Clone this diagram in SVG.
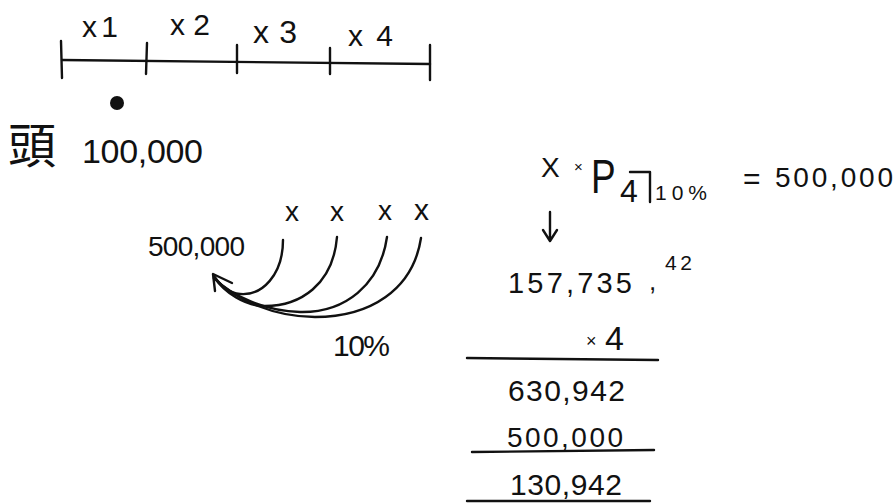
<svg xmlns="http://www.w3.org/2000/svg" width="896" height="504" viewBox="0 0 896 504">
<style>
.t{font-family:"Liberation Sans","DejaVu Sans",sans-serif;fill:#111;}
.cjk{font-family:"Noto Sans CJK JP","Noto Sans CJK SC",sans-serif;fill:#111;}
.s{fill:none;stroke:#111;stroke-width:2.4;stroke-linecap:round;stroke-linejoin:round;}
</style>
<rect width="896" height="504" fill="#ffffff"/>
<g id="timeline">
<path class="s" d="M62,60 L430,64"/>
<path class="s" d="M61,41 L62,78 M147,43 L146,74 M237,45 L237,73 M330,48 L330,74 M430,45 L430,80"/>
<text class="t" x="82" y="37" font-size="30" textLength="36">x1</text>
<text class="t" x="170" y="35" font-size="30" textLength="40">x2</text>
<text class="t" x="253" y="43" font-size="32" textLength="44">x3</text>
<text class="t" x="348" y="46" font-size="30" textLength="45">x4</text>
<circle cx="117" cy="103" r="7" fill="#111"/>
</g>
<g id="head">
<text class="cjk" x="8" y="163" font-size="48">頭</text>
<text class="t" x="82" y="163" font-size="34" textLength="121">100,000</text>
</g>
<g id="left-diagram">
<text class="t" x="285" y="221" font-size="28">x</text>
<text class="t" x="330" y="221" font-size="28">x</text>
<text class="t" x="378" y="220" font-size="28">x</text>
<text class="t" x="414" y="220" font-size="30">x</text>
<text class="t" x="148" y="256" font-size="28" textLength="97">500,000</text>
<path class="s" d="M283,240 C283,275 262,296 240,294 C228,293 220,285 214,276"/>
<path class="s" d="M337,237 C333,285 300,306 265,306 C245,306 225,293 214,277"/>
<path class="s" d="M387,237 C380,285 345,313 300,312 C265,311 232,296 214,278"/>
<path class="s" d="M421,238 C413,290 370,317 315,317 C275,317 235,300 214,278"/>
<path class="s" d="M215,291 L213,274 L232,283"/>
<text class="t" x="333" y="356" font-size="30" textLength="57">10%</text>
</g>
<g id="equation">
<text class="t" x="541" y="177" font-size="28">X</text>
<text class="t" x="574" y="172" font-size="15">×</text>
<text class="t" transform="translate(591,193) scale(0.77,1)" x="0" y="0" font-size="48">P</text>
<text class="t" x="620" y="202" font-size="32">4</text>
<path class="s" d="M630,172 L650,172 L650,202"/>
<text class="t" x="655" y="200" font-size="21" textLength="52">10%</text>
<text class="t" x="743" y="189" font-size="30">=</text>
<text class="t" x="775" y="187" font-size="28" textLength="118">500,000</text>
<path class="s" d="M550,212 L550,240 M543,230 L550,241 L557,230"/>
</g>
<g id="calculation">
<text class="t" x="508" y="293" font-size="29" textLength="124">157,735</text>
<text class="t" x="649" y="290" font-size="26">,</text>
<text class="t" x="665" y="270" font-size="21" textLength="27">42</text>
<text class="t" x="586" y="347" font-size="18">×</text>
<text class="t" x="605" y="350" font-size="34">4</text>
<path class="s" d="M467,358 L658,360"/>
<text class="t" x="508" y="401" font-size="30" textLength="117">630,942</text>
<text class="t" x="507" y="447" font-size="28" textLength="116">500,000</text>
<path class="s" d="M472,452 L654,450"/>
<text class="t" x="510" y="495" font-size="30" textLength="112">130,942</text>
<path class="s" d="M467,501 L650,501"/>
</g>
</svg>
